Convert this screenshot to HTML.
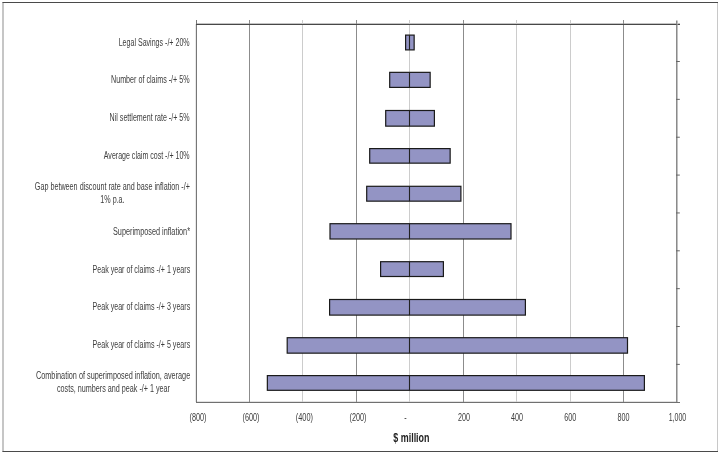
<!DOCTYPE html>
<html><head><meta charset="utf-8"><title>Sensitivity chart</title>
<style>
html,body{margin:0;padding:0;background:#fff;}
body{width:720px;height:456px;overflow:hidden;}
svg{display:block;font-family:"Liberation Sans",sans-serif;}
</style></head><body>
<svg width="720" height="456" viewBox="0 0 720 456">
<rect x="0" y="0" width="720" height="456" fill="#fff"/>
<rect x="2" y="2" width="2" height="450" fill="#c6c6c6"/>
<rect x="717" y="2" width="1" height="450" fill="#c8c8c8"/>
<rect x="2.5" y="2" width="715.5" height="1" fill="#4a4a4a"/>
<rect x="2.5" y="451" width="715.5" height="1" fill="#4a4a4a"/>
<rect x="197" y="401" width="479" height="1" fill="#e2e2e2"/>
<rect x="197" y="23" width="483" height="1" fill="#c4c4c4"/>
<rect x="249" y="20" width="1" height="382" fill="#8c8c8c"/>
<rect x="302" y="20" width="1" height="382" fill="#cccccc"/>
<rect x="356" y="20" width="1" height="382" fill="#8c8c8c"/>
<rect x="409" y="20" width="1" height="382" fill="#cccccc"/>
<rect x="463" y="20" width="1" height="382" fill="#8c8c8c"/>
<rect x="516" y="20" width="1" height="382" fill="#cccccc"/>
<rect x="570" y="20" width="1" height="382" fill="#cccccc"/>
<rect x="623" y="20" width="1" height="382" fill="#8c8c8c"/>
<rect x="249" y="20" width="1" height="4" fill="#8c8c8c"/>
<rect x="302" y="20" width="1" height="4" fill="#cccccc"/>
<rect x="356" y="20" width="1" height="4" fill="#8c8c8c"/>
<rect x="409" y="20" width="1" height="4" fill="#cccccc"/>
<rect x="463" y="20" width="1" height="4" fill="#8c8c8c"/>
<rect x="516" y="20" width="1" height="4" fill="#cccccc"/>
<rect x="570" y="20" width="1" height="4" fill="#cccccc"/>
<rect x="623" y="20" width="1" height="4" fill="#8c8c8c"/>
<rect x="195" y="24" width="1" height="378" fill="#e8e8e8"/>
<rect x="196" y="20" width="1" height="383" fill="#777"/>
<rect x="676" y="24" width="1" height="379" fill="#8a8a8a"/>
<rect x="677" y="24" width="1" height="379" fill="#c0c0c0"/>
<rect x="196" y="24" width="484" height="1" fill="#484848"/>
<rect x="676" y="20.5" width="1" height="4" fill="#8a8a8a"/>
<rect x="677" y="20.5" width="1" height="4" fill="#c0c0c0"/>
<rect x="196" y="402" width="484" height="1" fill="#707070"/>
<rect x="676" y="61.00" width="3.8" height="1" fill="#666"/>
<rect x="676" y="98.86" width="3.8" height="1" fill="#666"/>
<rect x="676" y="136.72" width="3.8" height="1" fill="#666"/>
<rect x="676" y="174.58" width="3.8" height="1" fill="#666"/>
<rect x="676" y="212.44" width="3.8" height="1" fill="#666"/>
<rect x="676" y="250.30" width="3.8" height="1" fill="#666"/>
<rect x="676" y="288.16" width="3.8" height="1" fill="#666"/>
<rect x="676" y="326.02" width="3.8" height="1" fill="#666"/>
<rect x="676" y="363.88" width="3.8" height="1" fill="#666"/>
<rect x="405.60" y="35.10" width="8.55" height="14.80" fill="#9394c4" stroke="#1a1a1a" stroke-width="1.2"/>
<rect x="408.95" y="35.10" width="1.1" height="14.80" fill="#222"/>
<rect x="389.70" y="72.35" width="40.45" height="15.05" fill="#9394c4" stroke="#1a1a1a" stroke-width="1.2"/>
<rect x="408.95" y="72.35" width="1.1" height="15.05" fill="#222"/>
<rect x="385.70" y="110.50" width="48.70" height="15.65" fill="#9394c4" stroke="#1a1a1a" stroke-width="1.2"/>
<rect x="408.95" y="110.50" width="1.1" height="15.65" fill="#222"/>
<rect x="369.70" y="148.60" width="80.45" height="14.55" fill="#9394c4" stroke="#1a1a1a" stroke-width="1.2"/>
<rect x="408.95" y="148.60" width="1.1" height="14.55" fill="#222"/>
<rect x="366.70" y="186.30" width="94.20" height="14.85" fill="#9394c4" stroke="#1a1a1a" stroke-width="1.2"/>
<rect x="408.95" y="186.30" width="1.1" height="14.85" fill="#222"/>
<rect x="330.00" y="223.70" width="181.00" height="15.30" fill="#9394c4" stroke="#1a1a1a" stroke-width="1.2"/>
<rect x="408.95" y="223.70" width="1.1" height="15.30" fill="#222"/>
<rect x="380.60" y="261.70" width="62.80" height="14.80" fill="#9394c4" stroke="#1a1a1a" stroke-width="1.2"/>
<rect x="408.95" y="261.70" width="1.1" height="14.80" fill="#222"/>
<rect x="329.60" y="299.50" width="195.80" height="15.60" fill="#9394c4" stroke="#1a1a1a" stroke-width="1.2"/>
<rect x="408.95" y="299.50" width="1.1" height="15.60" fill="#222"/>
<rect x="287.20" y="337.70" width="340.30" height="15.45" fill="#9394c4" stroke="#1a1a1a" stroke-width="1.2"/>
<rect x="408.95" y="337.70" width="1.1" height="15.45" fill="#222"/>
<rect x="267.35" y="375.60" width="377.05" height="14.70" fill="#9394c4" stroke="#1a1a1a" stroke-width="1.2"/>
<rect x="408.95" y="375.60" width="1.1" height="14.70" fill="#222"/>
<text x="118.7" y="46" font-size="10" textLength="70.9" lengthAdjust="spacingAndGlyphs" fill="#3c3c3c">Legal Savings -/+ 20%</text>
<text x="111" y="83.4" font-size="10" textLength="78.6" lengthAdjust="spacingAndGlyphs" fill="#3c3c3c">Number of claims -/+ 5%</text>
<text x="109.6" y="120.9" font-size="10" textLength="80.0" lengthAdjust="spacingAndGlyphs" fill="#3c3c3c">Nil settlement rate -/+ 5%</text>
<text x="103.8" y="158.7" font-size="10" textLength="85.8" lengthAdjust="spacingAndGlyphs" fill="#3c3c3c">Average claim cost -/+ 10%</text>
<text x="34.8" y="189.6" font-size="10" textLength="155.1" lengthAdjust="spacingAndGlyphs" fill="#3c3c3c">Gap between discount rate and base inflation -/+</text>
<text x="100.3" y="203.0" font-size="10" textLength="24.3" lengthAdjust="spacingAndGlyphs" fill="#3c3c3c">1% p.a.</text>
<text x="113" y="235" font-size="10" textLength="77.0" lengthAdjust="spacingAndGlyphs" fill="#3c3c3c">Superimposed inflation*</text>
<text x="92.5" y="272.5" font-size="10" textLength="97.7" lengthAdjust="spacingAndGlyphs" fill="#3c3c3c">Peak year of claims -/+ 1 years</text>
<text x="92.5" y="309.9" font-size="10" textLength="97.7" lengthAdjust="spacingAndGlyphs" fill="#3c3c3c">Peak year of claims -/+ 3 years</text>
<text x="92.5" y="347.6" font-size="10" textLength="97.7" lengthAdjust="spacingAndGlyphs" fill="#3c3c3c">Peak year of claims -/+ 5 years</text>
<text x="36" y="379" font-size="10" textLength="154.2" lengthAdjust="spacingAndGlyphs" fill="#3c3c3c">Combination of superimposed inflation, average</text>
<text x="57" y="392.2" font-size="10" textLength="113.0" lengthAdjust="spacingAndGlyphs" fill="#3c3c3c">costs, numbers and peak -/+ 1 year</text>
<text x="189.5" y="421" font-size="10" textLength="17.0" lengthAdjust="spacingAndGlyphs" fill="#3c3c3c">(800)</text>
<text x="242.5" y="421" font-size="10" textLength="17.0" lengthAdjust="spacingAndGlyphs" fill="#3c3c3c">(600)</text>
<text x="295.8" y="421" font-size="10" textLength="17.2" lengthAdjust="spacingAndGlyphs" fill="#3c3c3c">(400)</text>
<text x="349.5" y="421" font-size="10" textLength="17.0" lengthAdjust="spacingAndGlyphs" fill="#3c3c3c">(200)</text>
<text x="404.2" y="421" font-size="10" textLength="2.4" lengthAdjust="spacingAndGlyphs" fill="#3c3c3c">-</text>
<text x="458" y="421" font-size="10" textLength="12.0" lengthAdjust="spacingAndGlyphs" fill="#3c3c3c">200</text>
<text x="511" y="421" font-size="10" textLength="12.0" lengthAdjust="spacingAndGlyphs" fill="#3c3c3c">400</text>
<text x="564.2" y="421" font-size="10" textLength="12.0" lengthAdjust="spacingAndGlyphs" fill="#3c3c3c">600</text>
<text x="617.5" y="421" font-size="10" textLength="12.0" lengthAdjust="spacingAndGlyphs" fill="#3c3c3c">800</text>
<text x="668.7" y="421" font-size="10" textLength="17.5" lengthAdjust="spacingAndGlyphs" fill="#3c3c3c">1,000</text>
<text x="393.3" y="442.1" font-size="12" textLength="36.2" lengthAdjust="spacingAndGlyphs" fill="#222" font-weight="bold">$ million</text>
</svg>
</body></html>
